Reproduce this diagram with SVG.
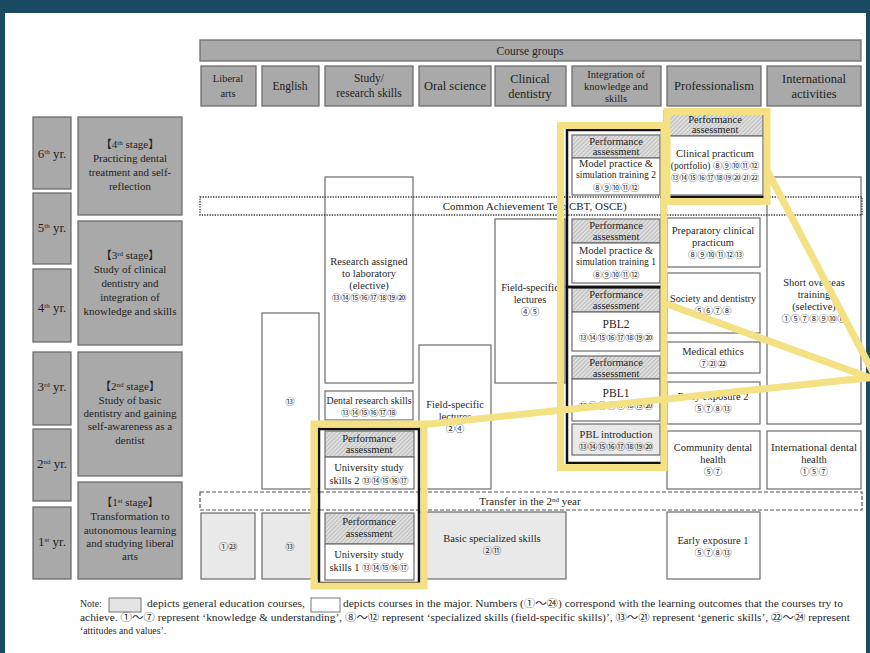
<svg xmlns="http://www.w3.org/2000/svg" width="870" height="653" viewBox="0 0 870 653">
<style>
.t{font-family:"Liberation Serif","Noto Sans CJK JP",serif;font-size:10.5px;fill:#1f1f1f;text-anchor:middle}
.c{font-family:"Noto Sans CJK JP","DejaVu Sans",sans-serif;font-size:9.3px;fill:#333;text-anchor:middle}
.hd{font-size:12.5px}
.hs{font-size:11.5px}
.st{font-size:11px}
.yr{font-size:13px}
.g{fill:#a9a9a9;stroke:#6e6e6e;stroke-width:1.3}
.w{fill:#fff;stroke:#6b6b6b;stroke-width:1.2}
.l{fill:#e9e9e9;stroke:#6b6b6b;stroke-width:1.2}
.h{fill:url(#hatch);stroke:#6b6b6b;stroke-width:1.2}
.bf{fill:none;stroke:#111;stroke-width:2.5}
.yl{fill:none;stroke:#f3e183;stroke-width:7}
.sup{font-size:7px}
.note{font-family:"Liberation Serif","Noto Sans CJK JP",serif;font-size:9.8px;fill:#1f1f1f}
</style>
<defs>
<pattern id="hatch" patternUnits="userSpaceOnUse" width="3" height="3" patternTransform="rotate(45)">
<rect width="3" height="3" fill="#dedede"/>
<line x1="0" y1="0" x2="0" y2="3" stroke="#9c9c9c" stroke-width="1"/>
</pattern>
</defs>
<rect x="0" y="0" width="870" height="653" fill="#1a4a62"/>
<rect x="5" y="13" width="861" height="640" fill="#ffffff"/>

<g id="course-groups"><rect class="g" x="200" y="40" width="661" height="21"/><text class="t hs" x="530" y="55">Course groups</text></g>
<g id="col-liberal"><rect class="g" x="201" y="66" width="55" height="40"/><text class="t" x="228" y="82">Liberal</text><text class="t" x="228" y="97">arts</text></g>
<g id="col-english"><rect class="g" x="262" y="66" width="57" height="40"/><text class="t hs" x="290" y="90">English</text></g>
<g id="col-study"><rect class="g" x="325" y="66" width="88" height="40"/><text class="t hs" x="369" y="82">Study/</text><text class="t hs" x="369" y="97">research skills</text></g>
<g id="col-oral"><rect class="g" x="419" y="66" width="72" height="40"/><text class="t hd" x="455" y="90">Oral science</text></g>
<g id="col-clinical"><rect class="g" x="495" y="66" width="71" height="40"/><text class="t hd" x="530" y="83">Clinical</text><text class="t hd" x="530" y="98">dentistry</text></g>
<g id="col-integration"><rect class="g" x="572" y="66" width="89" height="40"/><text class="t" x="616" y="78">Integration of</text><text class="t" x="616" y="90">knowledge and</text><text class="t" x="616" y="102">skills</text></g>
<g id="col-prof"><rect class="g" x="667" y="66" width="94" height="40"/><text class="t hd" x="714" y="90">Professionalism</text></g>
<g id="col-intl"><rect class="g" x="767" y="66" width="94" height="40"/><text class="t hd" x="814" y="83">International</text><text class="t hd" x="814" y="98">activities</text></g>

<g id="yr6"><rect class="g" x="33" y="117" width="38" height="72"/><text class="t yr" x="52" y="158">6<tspan class="sup" dy="-4">th</tspan><tspan dy="4"> yr.</tspan></text></g>
<g id="yr5"><rect class="g" x="33" y="193" width="38" height="71"/><text class="t yr" x="52" y="232">5<tspan class="sup" dy="-4">th</tspan><tspan dy="4"> yr.</tspan></text></g>
<g id="yr4"><rect class="g" x="33" y="269" width="38" height="73"/><text class="t yr" x="52" y="312">4<tspan class="sup" dy="-4">th</tspan><tspan dy="4"> yr.</tspan></text></g>
<g id="yr3"><rect class="g" x="33" y="352" width="38" height="73"/><text class="t yr" x="52" y="391">3<tspan class="sup" dy="-4">rd</tspan><tspan dy="4"> yr.</tspan></text></g>
<g id="yr2"><rect class="g" x="33" y="429" width="38" height="72"/><text class="t yr" x="52" y="468">2<tspan class="sup" dy="-4">nd</tspan><tspan dy="4"> yr.</tspan></text></g>
<g id="yr1"><rect class="g" x="33" y="507" width="38" height="72"/><text class="t yr" x="52" y="546">1<tspan class="sup" dy="-4">st</tspan><tspan dy="4"> yr.</tspan></text></g>

<g id="stage4"><rect class="g" x="78" y="117" width="104" height="98"/><text class="t st" x="130" y="148">【4<tspan class="sup" dy="-3">th</tspan><tspan dy="3"> stage】</tspan></text><text class="t st" x="130" y="162">Practicing dental</text><text class="t st" x="130" y="176">treatment and self-</text><text class="t st" x="130" y="190">reflection</text></g>
<g id="stage3"><rect class="g" x="78" y="221" width="104" height="124"/><text class="t st" x="130" y="259">【3<tspan class="sup" dy="-3">rd</tspan><tspan dy="3"> stage】</tspan></text><text class="t st" x="130" y="273">Study of clinical</text><text class="t st" x="130" y="287">dentistry and</text><text class="t st" x="130" y="301">integration of</text><text class="t st" x="130" y="315">knowledge and skills</text></g>
<g id="stage2"><rect class="g" x="78" y="352" width="104" height="124"/><text class="t st" x="130" y="390">【2<tspan class="sup" dy="-3">nd</tspan><tspan dy="3"> stage】</tspan></text><text class="t st" x="130" y="404">Study of basic</text><text class="t st" x="130" y="417">dentistry and gaining</text><text class="t st" x="130" y="430">self-awareness as a</text><text class="t st" x="130" y="444">dentist</text></g>
<g id="stage1"><rect class="g" x="78" y="482" width="104" height="97"/><text class="t st" x="130" y="506">【1<tspan class="sup" dy="-3">st</tspan><tspan dy="3"> stage】</tspan></text><text class="t st" x="130" y="520">Transformation to</text><text class="t st" x="130" y="534">autonomous learning</text><text class="t st" x="130" y="547">and studying liberal</text><text class="t st" x="130" y="560">arts</text></g>

<g id="liberal-1"><rect class="l" x="201" y="513" width="54" height="66"/><text class="c" x="228" y="550">①㉓</text></g>
<g id="english-1"><rect class="l" x="262" y="513" width="56" height="66"/><text class="c" x="290" y="550">⑬</text></g>
<g id="english-23"><rect class="w" x="262" y="313" width="57" height="176"/><text class="c" x="290" y="405">⑬</text></g>

<g id="research-lab"><rect class="w" x="325" y="177" width="88" height="206"/><text class="t" x="369" y="265">Research assigned</text><text class="t" x="369" y="277">to laboratory</text><text class="t" x="369" y="289">(elective)</text><text class="c" x="369" y="301">⑬⑭⑮⑯⑰⑱⑲⑳</text></g>
<g id="dental-research"><rect class="w" x="325" y="391" width="88" height="29"/><text class="t" x="369" y="404" textLength="85" lengthAdjust="spacingAndGlyphs">Dental research skills</text><text class="c" x="369" y="416">⑬⑭⑮⑯⑰⑱</text></g>
<g id="uss2"><rect class="h" x="325" y="431" width="89" height="26"/><text class="t" x="369" y="442">Performance</text><text class="t" x="369" y="453">assessment</text><rect class="w" x="325" y="457" width="89" height="32"/><text class="t" x="369" y="471">University study</text><text class="t" x="369" y="484">skills 2 <tspan class="c">⑬⑭⑮⑯⑰</tspan></text></g>
<g id="uss1"><rect class="h" x="325" y="513" width="89" height="31"/><text class="t" x="369" y="525">Performance</text><text class="t" x="369" y="537">assessment</text><rect class="w" x="325" y="544" width="89" height="36"/><text class="t" x="369" y="558">University study</text><text class="t" x="369" y="571">skills 1 <tspan class="c">⑬⑭⑮⑯⑰</tspan></text></g>

<g id="oral-lectures"><rect class="w" x="419" y="345" width="72" height="144"/><text class="t" x="455" y="408">Field-specific</text><text class="t" x="455" y="420">lectures</text><text class="c" x="455" y="432">②④</text></g>
<g id="clinical-lectures"><rect class="w" x="495" y="219" width="70" height="164"/><text class="t" x="530" y="291">Field-specific</text><text class="t" x="530" y="303">lectures</text><text class="c" x="530" y="315">④⑤</text></g>
<g id="basic-skills"><rect class="l" x="419" y="512" width="147" height="67"/><text class="t" x="492" y="542">Basic specialized skills</text><text class="c" x="492" y="554">②⑪</text></g>

<g id="mp2"><rect class="h" x="572" y="135" width="88" height="23"/><text class="t" x="616" y="145">Performance</text><text class="t" x="616" y="155">assessment</text><rect class="w" x="572" y="158" width="88" height="37"/><text class="t" x="616" y="167">Model practice &amp;</text><text class="t" x="616" y="178" textLength="80" lengthAdjust="spacingAndGlyphs">simulation training 2</text><text class="c" x="616" y="191">⑧⑨⑩⑪⑫</text></g>
<g id="mp1"><rect class="h" x="572" y="219" width="88" height="24"/><text class="t" x="616" y="229">Performance</text><text class="t" x="616" y="240">assessment</text><rect class="w" x="572" y="243" width="88" height="40"/><text class="t" x="616" y="254">Model practice &amp;</text><text class="t" x="616" y="265" textLength="80" lengthAdjust="spacingAndGlyphs">simulation training 1</text><text class="c" x="616" y="278">⑧⑨⑩⑪⑫</text></g>
<g id="pbl2"><rect class="h" x="572" y="288" width="88" height="24"/><text class="t" x="616" y="298">Performance</text><text class="t" x="616" y="309">assessment</text><rect class="w" x="572" y="312" width="88" height="39"/><text class="t hs" x="616" y="328">PBL2</text><text class="c" x="616" y="341">⑬⑭⑮⑯⑰⑱⑲⑳</text></g>
<g id="pbl1"><rect class="h" x="572" y="356" width="88" height="23"/><text class="t" x="616" y="366">Performance</text><text class="t" x="616" y="377">assessment</text><rect class="w" x="572" y="379" width="88" height="42"/><text class="t hs" x="616" y="397">PBL1</text><text class="c" x="616" y="409">⑬⑭⑮⑯⑰⑱⑲⑳</text></g>
<g id="pbl-intro"><rect class="l" x="572" y="424" width="88" height="31"/><text class="t" x="616" y="438">PBL introduction</text><text class="c" x="616" y="450">⑬⑭⑮⑯⑰⑱⑲⑳</text></g>

<g id="clin-prac"><rect class="h" x="667" y="113" width="96" height="23"/><text class="t" x="715" y="123">Performance</text><text class="t" x="715" y="133">assessment</text><rect class="w" x="667" y="136" width="96" height="59"/><text class="t" x="715" y="157">Clinical practicum</text><text class="t" x="715" y="169" style="font-size:9.5px">(portfolio) <tspan class="c">⑧⑨⑩⑪⑫</tspan></text><text class="c" x="715" y="181" style="font-size:8.8px">⑬⑭⑮⑯⑰⑱⑲⑳㉑㉒</text></g>
<g id="prep-clin"><rect class="w" x="667" y="218" width="93" height="49"/><text class="t" x="713" y="234">Preparatory clinical</text><text class="t" x="713" y="246">practicum</text><text class="c" x="716" y="258">⑧⑨⑩⑪⑫⑬</text></g>
<g id="society"><rect class="w" x="667" y="273" width="93" height="60"/><text class="t" x="713" y="302" textLength="86" lengthAdjust="spacingAndGlyphs">Society and dentistry</text><text class="c" x="713" y="314">⑤⑥⑦⑧</text></g>
<g id="ethics"><rect class="w" x="667" y="342" width="93" height="31"/><text class="t" x="713" y="355">Medical ethics</text><text class="c" x="713" y="367">⑦㉑㉒</text></g>
<g id="early2"><rect class="w" x="667" y="382" width="93" height="42"/><text class="t" x="713" y="400">Early exposure 2</text><text class="c" x="713" y="412">⑤⑦⑧⑬</text></g>
<g id="community"><rect class="w" x="667" y="431" width="93" height="58"/><text class="t" x="713" y="451">Community dental</text><text class="t" x="713" y="463">health</text><text class="c" x="713" y="475">⑤⑦</text></g>
<g id="early1"><rect class="w" x="667" y="512" width="93" height="67"/><text class="t" x="713" y="544">Early exposure 1</text><text class="c" x="713" y="556">⑤⑦⑧⑬</text></g>

<g id="overseas"><rect class="w" x="767" y="177" width="94" height="247"/><text class="t" x="814" y="286">Short overseas</text><text class="t" x="814" y="298">training</text><text class="t" x="814" y="310">(selective)</text><text class="c" x="814" y="322">①⑤⑦⑧⑨⑩⑪</text></g>
<g id="intl-health"><rect class="w" x="767" y="431" width="94" height="58"/><text class="t" x="814" y="451" textLength="86" lengthAdjust="spacingAndGlyphs">International dental</text><text class="t" x="814" y="463">health</text><text class="c" x="814" y="475">①⑤⑦</text></g>

<g id="cat-band"><rect x="200" y="197" width="662" height="18" fill="none" stroke="#333" stroke-width="1.3" stroke-dasharray="1.3,1.3"/><text class="t st" x="504" y="210">Common Achievement Test</text><text class="t st" x="596" y="210">(CBT, OSCE)</text></g>
<g id="transfer-band"><rect x="200" y="492" width="662" height="18" fill="none" stroke="#555" stroke-width="1.2" stroke-dasharray="4,2"/><text class="t st" x="530" y="505">Transfer in the 2<tspan class="sup" dy="-3">nd</tspan><tspan dy="3"> year</tspan></text></g>

<g id="frames">
<rect class="bf" x="319" y="429" width="100" height="154"/>
<rect class="bf" x="567" y="130" width="95" height="157"/>
<rect class="bf" x="567" y="287" width="95" height="176"/>
<rect class="bf" x="665" y="111" width="100" height="86"/>
</g>

<g id="connectors">
<rect class="yl" x="314" y="424" width="110" height="162"/>
<rect class="yl" x="560.5" y="125.5" width="103.5" height="342"/>
<rect class="yl" x="667" y="111.5" width="100" height="90"/>
<line class="yl" x1="420" y1="425" x2="876" y2="377"/>
<line class="yl" x1="664" y1="303" x2="876" y2="380"/>
<line class="yl" x1="768" y1="172" x2="876" y2="378"/>
</g>

<g id="note">
<text class="note" x="80" y="607">Note:</text>
<rect x="109" y="598" width="32" height="14" fill="#e4e4e4" stroke="#777" stroke-width="1"/>
<text class="note" x="147" y="607" textLength="158" lengthAdjust="spacingAndGlyphs">depicts general education courses,</text>
<rect x="311" y="598" width="29" height="14" fill="#fff" stroke="#777" stroke-width="1"/>
<text class="note" x="343" y="607" textLength="500" lengthAdjust="spacingAndGlyphs">depicts courses in the major. Numbers (①〜㉔) correspond with the learning outcomes that the courses try to</text>
<text class="note" x="80" y="621" textLength="770" lengthAdjust="spacingAndGlyphs">achieve. ①〜⑦ represent ‘knowledge &amp; understanding’, ⑧〜⑫ represent ‘specialized skills (field-specific skills)’, ⑬〜㉑ represent ‘generic skills’, ㉒〜㉔ represent</text>
<text class="note" x="80" y="634">‘attitudes and values’.</text>
</g>
</svg>
